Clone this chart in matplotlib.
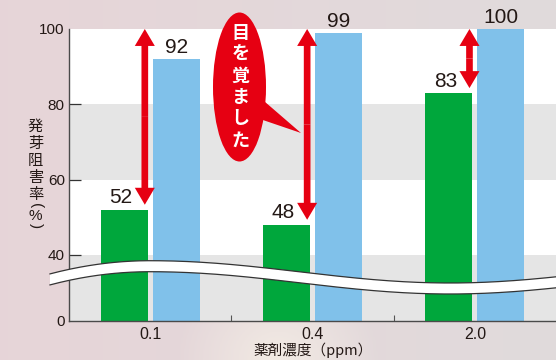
import numpy as np
import matplotlib
matplotlib.use("Agg")
from matplotlib import pyplot as plt
from matplotlib import patches, transforms
from matplotlib.lines import Line2D

# data
concs = ["0.1", "0.4", "2.0"]
green_vals = [52, 48, 83]
blue_vals = [92, 99, 100]
yticks = [0, 40, 60, 80, 100]

INK = "#231815"
RED = "#e60012"
CJK = ["Noto Sans CJK JP", "DejaVu Sans"]
plt.rcParams["font.family"] = ["Liberation Sans", "Noto Sans CJK JP", "DejaVu Sans"]

W, H = 556, 360
fig = plt.figure(figsize=(W / 100, H / 100), dpi=100)
# pixel coords with origin top-left, used for the decorations only
px = transforms.Affine2D().scale(1 / W, -1 / H).translate(0, 1) + fig.transFigure

# background: soft pink-grey gradient
bg = fig.add_axes([0, 0, 1, 1], zorder=-1)
gx = np.linspace(0, 1, 200)[None, :]
gy = np.linspace(0, 1, 130)[:, None]
left = np.array([0.905, 0.835, 0.848])
right = np.array([0.880, 0.858, 0.862])
img = left * (1 - gx[..., None]) + right * gx[..., None] + 0 * gy[..., None]
# faint light flare near the bottom middle
d = np.sqrt(((gx - 0.5) / 0.18) ** 2 + ((gy - 1.0) / 0.25) ** 2)
glow = np.clip(1 - d, 0, 1)[..., None] * 0.6
img = img * (1 - glow) + np.array([0.99, 0.97, 0.92]) * glow
bg.imshow(img, aspect="auto", extent=[0, 1, 0, 1], origin="upper")
bg.axis("off")

ax = fig.add_axes([69 / W, 39 / H, 487 / W, 292 / H])

# broken axis: 0-40 squeezed
K = 0.44


def fwd(v):
    v = np.asarray(v, float)
    return np.where(v < 40, 40 - (40 - v) * K, v)


def inv(u):
    u = np.asarray(u, float)
    return np.where(u < 40, 40 - (40 - u) / K, u)


ax.set_yscale("function", functions=(fwd, inv))
ax.set_facecolor("white")
ax.axhspan(60, 80, color="#e5e5e5", lw=0, zorder=0)
ax.axhspan(0, 40, color="#e5e5e5", lw=0, zorder=0)

x = np.arange(len(concs))
off, bw = 0.16, 0.288
ax.bar(x - off, green_vals, bw, color="#00a73c", zorder=2)
ax.bar(x + off, blue_vals, bw, color="#80c1ea", zorder=2)

for i, v in enumerate(green_vals):
    ax.annotate(str(v), (i - off, v), xytext=(-2.5, 4.5), textcoords="offset points",
                ha="center", va="baseline", fontsize=15, color=INK, annotation_clip=False)
for i, v in enumerate(blue_vals):
    ax.annotate(str(v), (i + off, v), xytext=(0, 4.5), textcoords="offset points",
                ha="center", va="baseline", fontsize=15, color=INK, annotation_clip=False)

# red double arrows from the green value up to 100
astyle = "simple,head_length=1.22,head_width=1.44,tail_width=0.48"
for i, g in enumerate(green_vals):
    xa = i - 0.033
    lo, hi = g + 1.3, 100
    mid = (lo + hi) / 2
    for end in (lo, hi):
        ax.add_patch(patches.FancyArrowPatch((xa, mid), (xa, end), arrowstyle=astyle,
                                             mutation_scale=10, color=RED, lw=0,
                                             shrinkA=0, shrinkB=0, zorder=4, clip_on=False))

ax.set_xlim(-0.5, 2.5)
ax.set_ylim(0, 100)
ax.set_xticks(x)
ax.set_xticklabels(concs)
ax.set_xticks([0.5, 1.5], minor=True)
ax.tick_params(axis="x", which="major", length=0, pad=4, labelsize=11.5, labelcolor=INK)
ax.tick_params(axis="x", which="minor", direction="in", length=4, width=0.8, color="#555555")
ax.set_yticks(yticks)
ax.set_yticklabels([str(t) for t in yticks])
ax.tick_params(axis="y", direction="in", length=8.6, width=0.9, color="#333333",
               pad=3, labelsize=11, labelcolor=INK)
for t in ax.yaxis.get_major_ticks():
    if t.get_loc() in (0, 100):
        t.tick1line.set_visible(False)
ax.yaxis.set_minor_locator(matplotlib.ticker.NullLocator())

for s in ("top", "right"):
    ax.spines[s].set_visible(False)
for s in ("left", "bottom"):
    ax.spines[s].set_color("#4a4a4a")
    ax.spines[s].set_linewidth(1.0)

# x axis title, placed by hand so it stays inside the canvas
fig.text(313, 350, "薬剤濃度（ppm）", transform=px, ha="center", va="center",
         fontsize=10.5, color=INK, family=CJK)

# vertical y label, parentheses turned to their vertical form
ylab = ["発", "芽", "阻", "害", "率"]
for k, ch in enumerate(ylab):
    fig.text(35.5, 126.5 + 17 * k, ch, transform=px, ha="center", va="center",
             fontsize=11, color=INK, family=CJK)
fig.text(35.5, 206, "(", transform=px, ha="center", va="center", rotation=-90,
         fontsize=11, color=INK)
fig.text(35.5, 216, "%", transform=px, ha="center", va="center", fontsize=11, color=INK)
fig.text(35.5, 226, ")", transform=px, ha="center", va="center", rotation=-90,
         fontsize=11, color=INK)

# wavy break band
xs = np.linspace(50, 556, 300)
top = np.where(xs < 150, 260.7 + 0.00132 * (xs - 150) ** 2,
               271.85 - 11.15 * np.cos(np.pi * (xs - 150) / 300))
bot = top + 11
band = np.column_stack([np.r_[xs, xs[::-1]], np.r_[top, bot[::-1]]])
fig.add_artist(patches.Polygon(band, closed=True, transform=px, color="white", lw=0, zorder=3))
fig.add_artist(Line2D(xs, top, transform=px, color="#333333", lw=0.9, zorder=3.1))
fig.add_artist(Line2D(xs, bot, transform=px, color="#333333", lw=0.9, zorder=3.1))

# speech bubble
fig.add_artist(patches.Ellipse((239.5, 87), 53, 149, transform=px, color=RED, lw=0, zorder=5))
fig.add_artist(patches.Polygon([(257, 95), (257, 118), (301, 133)], closed=True,
                               transform=px, color=RED, lw=0, zorder=5))
for k, ch in enumerate("目を覚ました"):
    fig.text(240.5, 33.3 + 21.4 * k, ch, transform=px, ha="center", va="center",
             fontsize=13, fontweight="bold", color="white", zorder=6, family=CJK)

fig.savefig("out.png", dpi=100)
